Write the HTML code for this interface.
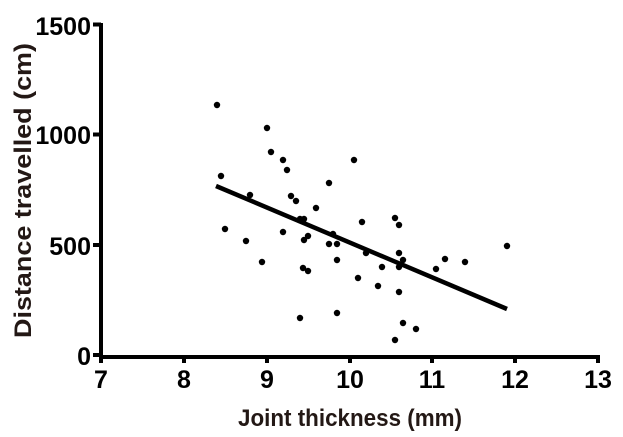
<!DOCTYPE html>
<html><head><style>body{margin:0;background:#fff}svg{display:block}</style></head><body>
<svg width="623" height="437" xmlns="http://www.w3.org/2000/svg" font-family="Liberation Sans, Arial, sans-serif" font-weight="bold">
<g stroke="#000" stroke-width="4" fill="none">
<path d="M101 23V357H598"/>
<path d="M93 24.5H101M93 134.5H101M93 245H101M93 355H101"/>
<path d="M101 355v8M184 355v8M267 355v8M350 355v8M432 355v8M515 355v8M598 355v8"/>
<line x1="216" y1="186" x2="507" y2="309" stroke-width="4.5"/>
</g>
<g fill="#000">
<circle cx="217" cy="105" r="3.2"/><circle cx="267" cy="128" r="3.2"/><circle cx="271" cy="152" r="3.2"/><circle cx="283" cy="160" r="3.2"/><circle cx="287" cy="170" r="3.2"/><circle cx="354" cy="160" r="3.2"/><circle cx="221" cy="176" r="3.2"/><circle cx="329" cy="183" r="3.2"/><circle cx="250" cy="195" r="3.2"/><circle cx="291" cy="196" r="3.2"/><circle cx="296" cy="201" r="3.2"/><circle cx="316" cy="208" r="3.2"/><circle cx="300" cy="219" r="3.2"/><circle cx="304" cy="219" r="3.2"/><circle cx="362" cy="222" r="3.2"/><circle cx="395" cy="218" r="3.2"/><circle cx="399" cy="225" r="3.2"/><circle cx="225" cy="229" r="3.2"/><circle cx="283" cy="232" r="3.2"/><circle cx="246" cy="241" r="3.2"/><circle cx="308" cy="236" r="3.2"/><circle cx="304" cy="240" r="3.2"/><circle cx="333" cy="234" r="3.2"/><circle cx="329" cy="244" r="3.2"/><circle cx="337" cy="244" r="3.2"/><circle cx="366" cy="253" r="3.2"/><circle cx="399" cy="253" r="3.2"/><circle cx="403" cy="260" r="3.2"/><circle cx="399" cy="267" r="3.2"/><circle cx="382" cy="267" r="3.2"/><circle cx="337" cy="260" r="3.2"/><circle cx="262" cy="262" r="3.2"/><circle cx="303" cy="268" r="3.2"/><circle cx="308" cy="271" r="3.2"/><circle cx="445" cy="259" r="3.2"/><circle cx="436" cy="269" r="3.2"/><circle cx="465" cy="262" r="3.2"/><circle cx="507" cy="246" r="3.2"/><circle cx="358" cy="278" r="3.2"/><circle cx="378" cy="286" r="3.2"/><circle cx="399" cy="292" r="3.2"/><circle cx="300" cy="318" r="3.2"/><circle cx="337" cy="313" r="3.2"/><circle cx="403" cy="323" r="3.2"/><circle cx="416" cy="329" r="3.2"/><circle cx="395" cy="340" r="3.2"/>
</g>
<g font-size="25" text-anchor="end" fill="#000">
<text x="91" y="35">1500</text><text x="91" y="144">1000</text><text x="91" y="255">500</text><text x="91" y="365">0</text>
</g>
<g font-size="25" text-anchor="middle" fill="#000">
<text x="101" y="388">7</text><text x="184" y="388">8</text><text x="267" y="388">9</text><text x="350" y="388">10</text><text x="432" y="388">11</text><text x="515" y="388">12</text><text x="598" y="388">13</text>
</g>
<text x="238" y="426" font-size="24" textLength="224" lengthAdjust="spacingAndGlyphs" fill="#231815">Joint thickness (mm)</text>
<text transform="translate(31 338) rotate(-90)" font-size="24" textLength="295" lengthAdjust="spacingAndGlyphs" fill="#231815">Distance travelled (cm)</text>
</svg>
</body></html>
